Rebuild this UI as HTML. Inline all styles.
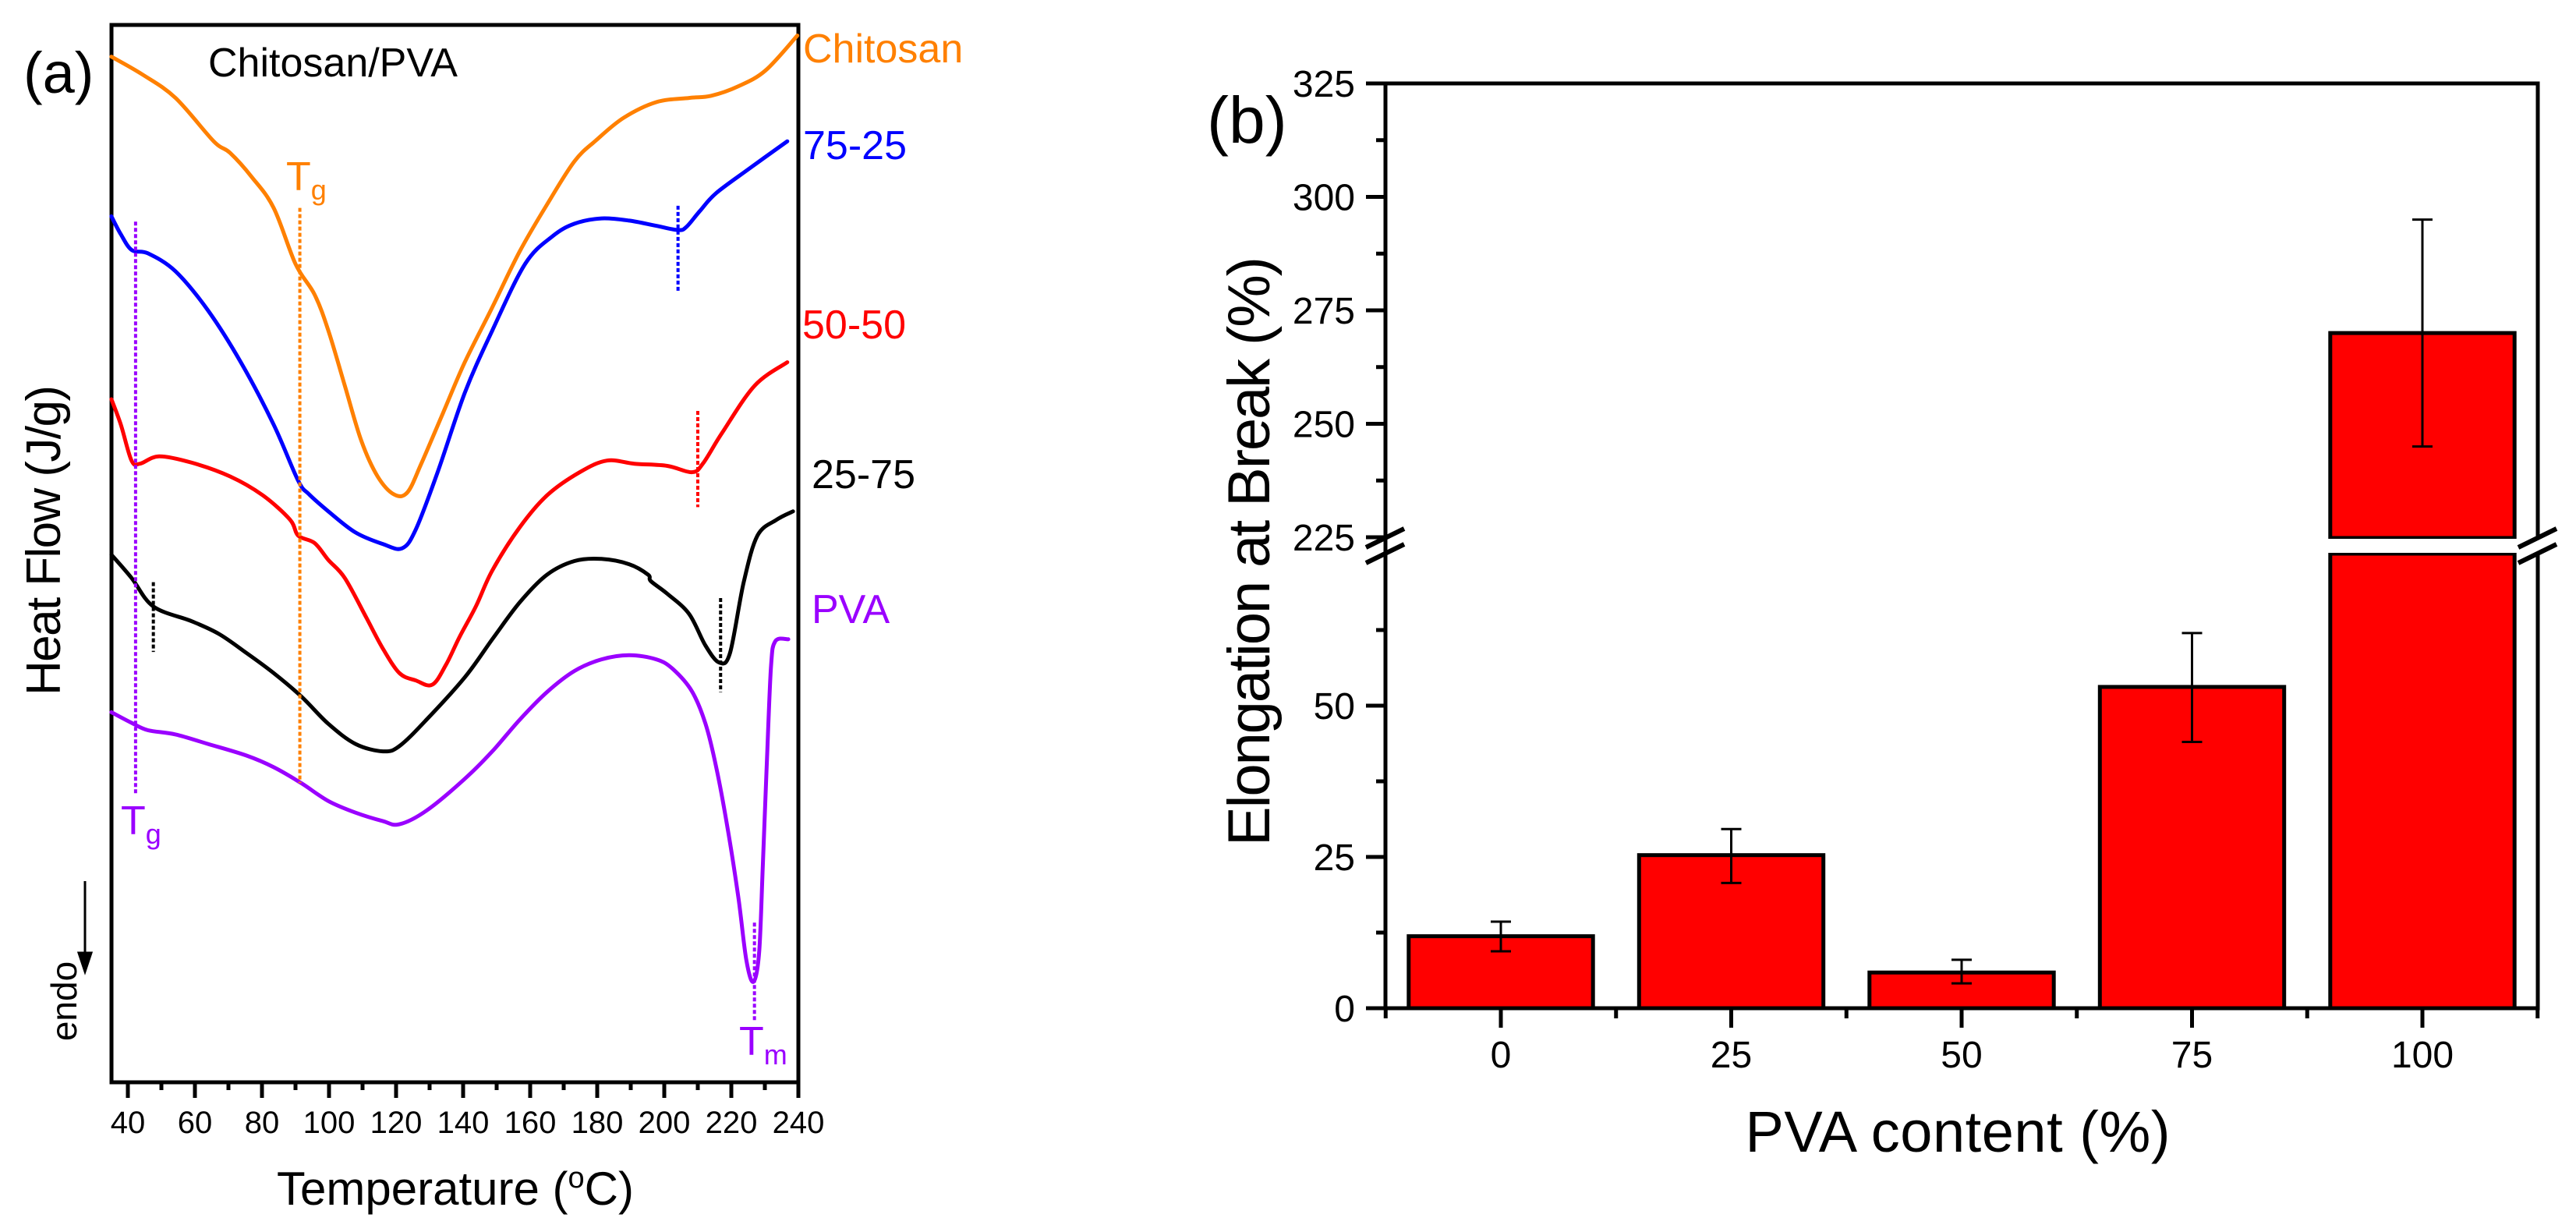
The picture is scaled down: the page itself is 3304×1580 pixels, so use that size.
<!DOCTYPE html>
<html><head><meta charset="utf-8"><style>
html,body{margin:0;padding:0;background:#fff;}
svg{display:block;}
text{font-family:"Liberation Sans",Arial,sans-serif;}
.nb{font-family:"Liberation Sans Narrow","Liberation Sans",sans-serif;}
</style></head><body>
<svg id="fig" width="3304" height="1580" viewBox="0 0 3304 1580" xmlns="http://www.w3.org/2000/svg">
<g id="pa"></g>
<g id="pb"></g>
</svg>
<script>
// ---------- Panel (a) data ----------
const tOrange=[35.1,44.4,54.2,65.6,70.5,77.0,83.5,90.0,95.7,99.8,104.7,109.6,114.5,119.4,123.4,127.5,134.0,140.5,148.7,156.9,165.0,173.2,179.7,187.8,197.6,207.4,213.9,222.1,230.2,239.7];
const hOrange=[97.0,95.3,93.1,89.0,87.9,85.6,82.7,77.4,74.5,71.1,65.9,60.7,57.3,55.6,55.8,58.5,63.3,68.1,73.3,78.6,83.0,87.1,89.1,91.2,92.7,93.1,93.3,94.2,95.7,99.0];
const tBlue=[35.1,37.9,41.2,46.0,54.2,63.9,73.7,83.5,90.8,94.1,99.8,107.9,116.1,121.8,125.9,132.4,140.5,148.7,158.5,166.6,173.2,181.3,189.5,197.6,204.1,206.6,210.6,215.5,225.3,236.7];
const hBlue=[81.9,80.2,78.7,78.4,76.7,73.0,68.1,62.2,56.9,55.6,54.0,52.0,50.9,50.5,52.3,57.7,65.2,71.1,77.4,80.0,81.2,81.7,81.5,81.0,80.6,80.9,82.4,84.1,86.4,89.0];
const tRed=[35.1,37.9,41.1,43.6,49.3,59.1,70.5,80.3,88.4,90.8,95.7,99.8,104.7,111.2,116.1,121.0,125.9,130.8,134.9,138.9,143.8,148.7,156.9,165.0,174.8,182.9,191.1,200.9,208.2,211.5,217.2,227.0,236.7];
const hRed=[64.6,62.2,58.8,58.5,59.2,58.6,57.3,55.5,53.2,51.7,51.0,49.4,47.7,43.9,41.0,38.7,38.0,37.6,39.5,42.1,45.0,48.4,52.5,55.5,57.7,58.8,58.5,58.3,57.7,58.5,61.4,65.9,68.1];
const tBlack=[35.1,41.1,47.6,59.1,67.2,75.4,83.5,91.7,99.8,107.9,116.1,121.0,129.1,140.5,148.7,156.9,165.0,173.2,181.3,189.5,195.2,196.0,200.9,207.4,212.3,216.4,219.6,223.7,227.8,233.5,238.4];
const hBlack=[49.9,47.7,45.0,43.6,42.4,40.6,38.7,36.5,33.9,32.0,31.3,31.8,34.3,38.3,41.9,45.4,48.0,49.3,49.5,49.0,48.0,47.4,46.2,44.3,41.3,39.7,40.6,47.3,51.7,53.2,54.0];
const tPurple=[35.1,41.1,46.0,54.2,63.9,75.4,83.5,91.7,99.8,107.9,116.1,121.0,129.1,140.5,148.7,156.9,165.0,173.2,181.3,189.5,197.6,202.5,208.2,212.3,215.5,218.8,222.1,224.5,226.6,228.3,229.4,230.5,231.8,233.1,237.0];
const hPurple=[35.0,34.0,33.3,32.9,32.0,30.9,29.8,28.3,26.6,25.5,24.7,24.4,25.7,28.7,31.3,34.3,36.9,38.9,40.0,40.4,40.0,39.1,37.0,33.9,29.8,24.2,17.5,11.5,9.5,12.3,20.5,29.4,39.1,41.7,41.9];
const xTicksA=[40,60,80,100,120,140,160,180,200,220,240];
const markT=[42.3,91.3,204.1,210.0,47.6,216.8,226.9];
const markTop=[81.4,82.7,82.9,63.5,47.3,45.8,15.1];
const markBot=[27.3,28.3,74.8,54.4,40.7,36.9,5.7];
const markColor=["#9A00FF","#FF8000","#0000FF","#FF0000","#000","#000","#9A00FF"];

// ---------- Panel (b) data ----------
const cats=[0,25,50,75,100];
const vals=[11.9,25.3,5.9,53.1,270];
const errHi=[14.3,29.6,8.0,62.0,295];
const errLo=[9.4,20.7,4.1,44.0,245];
const yTicksLow=[0,25,50];
const yTicksHigh=[225,250,275,300,325];

const NS="http://www.w3.org/2000/svg";
function mk(parent,tag,attrs,txt){const e=document.createElementNS(NS,tag);for(const k in attrs)e.setAttribute(k,attrs[k]);if(txt!==undefined)e.textContent=txt;parent.appendChild(e);return e;}

const pa=document.getElementById('pa');
const AL=143,AR=1024,AT=32,AB=1388;
const ax=t=>164+(t-40)*4.3;
const ay=v=>AB-v*13.56;
let f=mk(pa,'rect',{x:AL,y:AT,width:AR-AL,height:AB-AT,fill:'none',stroke:'#000','stroke-width':5});

for(let t=40;t<=240;t+=10){const major=(t%20===0);
 let l=mk(pa,'line',{x1:ax(t),x2:ax(t),y1:AB,y2:AB+(major?20:10),stroke:'#000','stroke-width':5});
 }
xTicksA.forEach(t=>{let e=mk(pa,'text',{x:ax(t),y:1453,'font-size':40,'text-anchor':'middle'},String(t));
 });
function curve(ts,hs,col,name){
 const P=ts.map((t,i)=>[ax(t),ay(hs[i])]);
 let d='M'+P[0][0].toFixed(1)+','+P[0][1].toFixed(1);
 for(let i=0;i<P.length-1;i++){const p0=P[Math.max(0,i-1)],p1=P[i],p2=P[i+1],p3=P[Math.min(P.length-1,i+2)];
  const c1=[p1[0]+(p2[0]-p0[0])/6,p1[1]+(p2[1]-p0[1])/6],c2=[p2[0]-(p3[0]-p1[0])/6,p2[1]-(p3[1]-p1[1])/6];
  d+=` C${c1[0].toFixed(1)},${c1[1].toFixed(1)} ${c2[0].toFixed(1)},${c2[1].toFixed(1)} ${p2[0].toFixed(1)},${p2[1].toFixed(1)}`;}
 let p=mk(pa,'path',{d:d,fill:'none',stroke:col,'stroke-width':5,'stroke-linejoin':'round','stroke-linecap':'round'});
 }
curve(tOrange,hOrange,'#FF8000','curve-chitosan');
curve(tBlue,hBlue,'#0000FF','curve-75-25');
curve(tRed,hRed,'#FF0000','curve-50-50');
curve(tBlack,hBlack,'#000','curve-25-75');
curve(tPurple,hPurple,'#9A00FF','curve-pva');
markT.forEach((t,i)=>{let l=mk(pa,'line',{x1:ax(t),x2:ax(t),y1:ay(markTop[i]),y2:ay(markBot[i]),stroke:markColor[i],'stroke-width':4,'stroke-dasharray':'5,3'});
 });
</script>
<script>
(function(){
const pa=document.getElementById('pa');
function T(x,y,s,txt,name,extra){const e=document.createElementNS("http://www.w3.org/2000/svg",'text');
 e.setAttribute('x',x);e.setAttribute('y',y);e.setAttribute('font-size',s);
 for(const k in (extra||{}))e.setAttribute(k,extra[k]);
 e.innerHTML=txt;pa.appendChild(e);
 
 
 return e;}
T(30,119,74,'(a)','panel-a-label');
T(267,98,52,'Chitosan/PVA','panel-a-title');
T(1030,80,52,'Chitosan','label-chitosan',{fill:'#FF8000'});
T(1030,204,52,'75-25','label-75-25',{fill:'#0000FF'});
T(1029,434,52,'50-50','label-50-50',{fill:'#FF0000'});
T(1041,626,52,'25-75','label-25-75',{fill:'#000'});
T(1041,799,52,'PVA','label-pva',{fill:'#9A00FF'});
T(367,244,52,'T<tspan font-size="36" dy="12">g</tspan>','tg-label-chitosan',{fill:'#FF8000'});
T(155,1070,52,'T<tspan font-size="36" dy="12">g</tspan>','tg-label-pva',{fill:'#9A00FF'});
T(948,1353,52,'T<tspan font-size="36" dy="12">m</tspan>','tm-label-pva',{fill:'#9A00FF'});
T(0,0,62,'Heat Flow (J/g)','y-axis-title',{transform:'translate(77,693) rotate(-90)','text-anchor':'middle',textLength:398});
T(0,0,46,'endo','endo-label',{transform:'translate(98,1284) rotate(-90)','text-anchor':'middle'});
T(355,1545,60,'Temperature (<tspan font-size="38" dy="-22">o</tspan><tspan dy="22">C)</tspan>','x-axis-title');
const ar=document.createElementNS("http://www.w3.org/2000/svg",'path');
ar.setAttribute('d','M109,1130 L109,1240 M101,1222 L109,1246 L117,1222 Z');
ar.setAttribute('stroke','#000');ar.setAttribute('stroke-width',3);ar.setAttribute('fill','#000');


pa.appendChild(ar);
})();
</script>
<script>
(function(){
const NS="http://www.w3.org/2000/svg";
const pb=document.getElementById('pb');
function mk(tag,attrs,txt){const e=document.createElementNS(NS,tag);for(const k in attrs)e.setAttribute(k,attrs[k]);if(txt!==undefined)e.textContent=txt;pb.appendChild(e);return e;}
const L=1777,R=3255,TOP=107,BOT=1293,GAPHI=690,GAPLO=710;
const bx=c=>1925+c*11.82;
function by(v){ if(v<=75) return BOT-v*7.76; return 107+(325-v)*5.82; }
cats.forEach((c,i)=>{const w=20*11.82;const x=bx(c)-w/2;
 if(vals[i]>75){
  let r1=mk('rect',{x:x,y:GAPLO,width:w,height:BOT-GAPLO,fill:'#FF0000',stroke:'#000','stroke-width':5});
  
  let r2=mk('rect',{x:x,y:by(vals[i]),width:w,height:GAPHI-by(vals[i]),fill:'#FF0000',stroke:'#000','stroke-width':5});
  
  let g=mk('rect',{x:x-3,y:GAPHI+1,width:w+6,height:GAPLO-GAPHI-2,fill:'#fff'});
  
 } else {
  let r=mk('rect',{x:x,y:by(vals[i]),width:w,height:BOT-by(vals[i]),fill:'#FF0000',stroke:'#000','stroke-width':5});
  
 }
 const cx=bx(c);
 let e=mk('path',{d:`M${cx},${by(errHi[i])} L${cx},${by(errLo[i])} M${cx-13},${by(errHi[i])} L${cx+13},${by(errHi[i])} M${cx-13},${by(errLo[i])} L${cx+13},${by(errLo[i])}`,stroke:'#000','stroke-width':3,fill:'none'});
 
});
let fr=mk('path',{d:`M${L},${TOP} L${L},${BOT} L${R},${BOT} L${R},${TOP} L${L-25},${TOP}`,fill:'none',stroke:'#000','stroke-width':5});

let rg=mk('rect',{x:R-4,y:GAPHI+2,width:8,height:GAPLO-GAPHI-4,fill:'#fff'});

[L,R].forEach(xx=>{let b=mk('path',{d:`M${xx-25},${GAPHI+12} L${xx+24},${GAPHI-12} M${xx-25},${GAPLO+12} L${xx+24},${GAPLO-12}`,stroke:'#000','stroke-width':6,fill:'none'});
 });
for(let v=0;v<=62.5;v+=12.5){const maj=(v%25===0);let t=mk('line',{x1:L-(maj?25:12),x2:L,y1:by(v),y2:by(v),stroke:'#000','stroke-width':5});
 }
for(let v=225;v<=325;v+=12.5){const maj=(v%25===0);let t=mk('line',{x1:L-(maj?25:12),x2:L,y1:by(v),y2:by(v),stroke:'#000','stroke-width':5});
 }
yTicksLow.concat(yTicksHigh).forEach(v=>{let t=mk('text',{x:1738,y:by(v)+17,'font-size':48,'text-anchor':'end',class:'nb'},String(v));
 });
for(let c=-12.5;c<=112.5;c+=12.5){const maj=(Math.abs(c%25)<0.01);let t=mk('line',{x1:bx(c),x2:bx(c),y1:BOT,y2:BOT+(maj?25:13),stroke:'#000','stroke-width':5});
 }
cats.forEach(c=>{let t=mk('text',{x:bx(c),y:1369,'font-size':48,'text-anchor':'middle',class:'nb'},String(c));
 });
let xt=mk('text',{x:2511,y:1477,'font-size':74,'text-anchor':'middle',class:'nb',textLength:545},'PVA content (%)');

let yt=mk('text',{transform:'translate(1628,707) rotate(-90)','font-size':76,'text-anchor':'middle',class:'nb',textLength:756},'Elongation at Break (%)');

let lb=mk('text',{x:1548,y:183,'font-size':84,class:'nb'},'(b)');

})();
</script>
</body></html>
